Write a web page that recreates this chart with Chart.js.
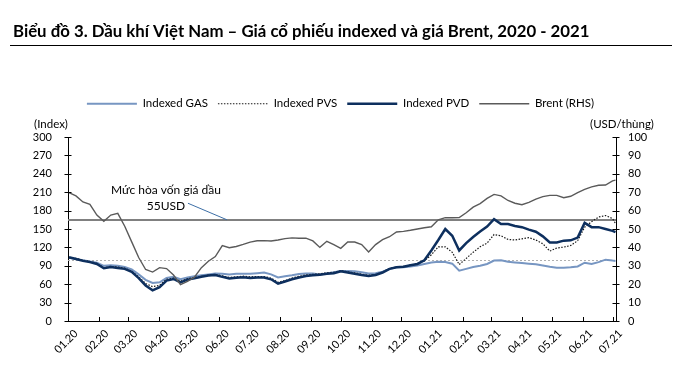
<!DOCTYPE html>
<html><head><meta charset="utf-8">
<script src="https://cdn.jsdelivr.net/npm/chart.js@4.4.1/dist/chart.umd.min.js"></script>
<style>html,body{margin:0;padding:0;background:#fff;}#wrap{width:681px;height:376px;}</style>
</head><body><div id="wrap"><canvas id="c" width="681" height="376"></canvas></div>
<script>
const titleText = 'Biểu đồ 3. Dầu khí Việt Nam – Giá cổ phiếu indexed và giá Brent, 2020 - 2021';
const leftAxisTitle = '(Index)';
const rightAxisTitle = '(USD/thùng)';
const noteLines = ['Mức hòa vốn giá dầu', '55USD'];
const breakEvenUSD = 55;
const baseIndex = 100;

// x = days since 2020-01-01 (weekly observations)
const days = [1,8,15,22,29,36,43,50,57,64,71,78,85,92,99,106,113,120,127,134,141,148,155,162,169,176,183,190,197,204,211,218,225,232,239,246,253,260,267,274,281,288,295,302,309,316,323,330,337,344,351,358,365,372,379,386,393,400,407,414,421,428,435,442,449,456,463,470,477,484,491,498,505,512,519,526,533,540,547,550];

const gas = [103,101,99,97,95,90,91,90,88,84,
  76,67,62,63,70,72,68,71,73,74.5,
  76,77.5,77,76,77,77,77,78,79,76,
  71,73,74.5,76.5,77.5,77.5,76,77.5,79.5,81.5,
  81.5,81,79.5,77.5,78,80.5,85,87.5,87.5,89,
  90.5,93,95.5,96.5,96,93.5,82,85,88,90,
  93,98.5,99,96.5,95.5,94.5,93.5,92.5,90.5,88.5,
  87,87,87.5,89,95,93,96,100,98.5,98];

const pvs = [103,102,99,97,94,87,89,88,86,81,
  72,61,56,58,68,70,65,69,71,73,
  75,76,73.5,71,72,73,72,72.5,72.5,70,
  63,66,70,73,75,76,77,78.5,79.5,82,
  80,78.5,76.5,74.5,76,80,85.5,88,89,91,
  93,98,108,121,121,112,92,102,112,121,
  127,141,139,133,132,134,136,132,126,114,
  119,120.5,123,131,153,162,169.5,172,167,159];

const pvd = [104,101,98,96,93,86,88,86.5,85,80,
  70,58,50,55,66,68.5,63,67.5,69.5,72,
  74,75,72,69.5,70.5,71.5,70,71,71,68,
  61,64.5,68,71,73.5,74.5,75.5,77,78,81,
  79,77,75,73.5,75,79,85,87.5,88.5,91,
  93,99,115,132,150,139,115,127,137,146,
  154,166,158,158,155,153,149,145.5,138,128,
  128,131,131.5,136,160,153,153,150,147,145];

const brent = [69.8,68.0,64.7,63.4,57.6,54.2,57.6,58.5,51.5,43.0,
  34.5,28.0,26.6,29.0,28.5,25.0,19.8,21.5,23.8,29.0,
  32.5,35.0,41.0,39.8,40.5,41.6,42.9,43.6,43.7,43.5,
  44.0,44.8,45.2,45.0,45.0,43.5,40.0,43.3,41.5,39.5,
  42.9,42.9,41.5,37.5,41.5,44.2,45.8,48.4,48.7,49.3,
  50.0,50.7,51.2,55.0,56.2,56.1,56.2,58.8,61.9,63.8,
  66.6,68.8,68.0,65.5,64.0,63.2,64.5,66.2,67.6,68.3,
  68.3,67.0,67.8,69.8,71.5,72.9,73.8,73.9,76.2,76.6];

const monthStarts = [0,31,60,91,121,152,182,213,244,274,305,335,366,397,425,456,486,517,547];
const monthLabels = ['01.20','02.20','03.20','04.20','05.20','06.20','07.20','08.20','09.20','10.20','11.20','12.20','01.21','02.21','03.21','04.21','05.21','06.21','07.21'];
const leftTicks = [0,30,60,90,120,150,180,210,240,270,300];
const rightTicks = [0,10,20,30,40,50,60,70,80,90,100];

const FONT = 'Lato';
const pts = arr => days.map((d, i) => ({x: d, y: arr[i]}));

// annotation placement (days, USD)
const note = {x: 98.4, y1: 68.8, y2: 60.2, lx1: 120.5, ly1: 64.0, lx2: 159.7, ly2: 55};

const decor = {
  id: 'decor',
  beforeDatasetsDraw(chart) {
    const {ctx, chartArea: a, scales: {y, y2}} = chart;
    ctx.save();
    ctx.strokeStyle = '#b0b0b0'; ctx.lineWidth = 1; ctx.setLineDash([2, 2]);
    const py = Math.round(y.getPixelForValue(baseIndex)) + 0.5;
    ctx.beginPath(); ctx.moveTo(a.left, py); ctx.lineTo(a.right, py); ctx.stroke();
    ctx.setLineDash([]);
    ctx.strokeStyle = '#808080'; ctx.lineWidth = 2;
    const pb = Math.round(y2.getPixelForValue(breakEvenUSD));
    ctx.beginPath(); ctx.moveTo(a.left, pb); ctx.lineTo(a.right, pb); ctx.stroke();
    ctx.restore();
  },
  afterDraw(chart) {
    const {ctx, chartArea: a, scales: {x, y, y2}} = chart;
    ctx.save();
    // title
    ctx.fillStyle = '#000';
    ctx.font = 'bold 16px ' + FONT;
    const w = ctx.measureText(titleText).width;
    const fs = 16 * 577 / w;
    ctx.font = 'bold ' + fs.toFixed(2) + 'px ' + FONT;
    ctx.textBaseline = 'alphabetic'; ctx.textAlign = 'left';
    ctx.fillText(titleText, 13, 37);
    ctx.strokeStyle = '#000'; ctx.lineWidth = 1;
    ctx.beginPath(); ctx.moveTo(10, 45.5); ctx.lineTo(672, 45.5); ctx.stroke();
    // axis titles
    ctx.font = '11.5px ' + FONT; ctx.textAlign = 'center';
    ctx.fillText(leftAxisTitle, a.left - 17, 128);
    ctx.fillText(rightAxisTitle, a.right + 6, 128);
    // tick marks
    ctx.strokeStyle = '#000'; ctx.lineWidth = 1;
    ctx.beginPath();
    monthStarts.forEach(v => { const px = Math.round(x.getPixelForValue(v)) + 0.5; ctx.moveTo(px, a.bottom); ctx.lineTo(px, a.bottom - 4); });
    leftTicks.forEach(v => { const p = Math.round(y.getPixelForValue(v)) + 0.5; ctx.moveTo(a.left - 3.5, p); ctx.lineTo(a.left + 3.5, p); });
    rightTicks.forEach(v => { const p = Math.round(y2.getPixelForValue(v)) + 0.5; ctx.moveTo(a.right - 3.5, p); ctx.lineTo(a.right + 3.5, p); });
    ctx.stroke();
    // annotation
    ctx.font = '12px ' + FONT; ctx.textAlign = 'center'; ctx.fillStyle = '#000';
    ctx.fillText(noteLines[0], x.getPixelForValue(note.x), y2.getPixelForValue(note.y1));
    ctx.fillText(noteLines[1], x.getPixelForValue(note.x), y2.getPixelForValue(note.y2));
    ctx.strokeStyle = '#3d6fa6'; ctx.lineWidth = 1;
    ctx.beginPath();
    ctx.moveTo(x.getPixelForValue(note.lx1), y2.getPixelForValue(note.ly1));
    ctx.lineTo(x.getPixelForValue(note.lx2), y2.getPixelForValue(note.ly2));
    ctx.stroke();
    ctx.restore();
  }
};

new Chart(document.getElementById('c'), {
  type: 'line',
  data: {
    datasets: [
      {label: 'Indexed GAS', data: pts(gas), borderColor: '#7796c2', borderWidth: 2, yAxisID: 'y', order: 4},
      {label: 'Indexed PVS', data: pts(pvs), borderColor: '#1a1a1a', borderWidth: 1.2, borderDash: [1.5, 1.5], yAxisID: 'y', order: 3},
      {label: 'Indexed PVD', data: pts(pvd), borderColor: '#0d2f5e', borderWidth: 2.5, yAxisID: 'y', order: 2},
      {label: 'Brent (RHS)', data: pts(brent), borderColor: '#5a5a5a', borderWidth: 1.4, yAxisID: 'y2', order: 1}
    ]
  },
  options: {
    responsive: false, animation: false,
    elements: {point: {radius: 0, hoverRadius: 0}, line: {tension: 0, fill: false}},
    layout: {padding: {top: 88, left: 0, right: 0, bottom: 0}},
    plugins: {
      title: {display: false},
      tooltip: {enabled: false},
      legend: {
        position: 'top', align: 'center',
        labels: {
          usePointStyle: true, pointStyle: 'line', pointStyleWidth: 50, boxWidth: 50, padding: 10,
          color: '#000', font: {family: FONT, size: 11.5},
          generateLabels: (chart) => chart.data.datasets.map((ds, i) => ({
            text: ds.label, fillStyle: ds.borderColor, strokeStyle: ds.borderColor,
            lineWidth: ds.borderWidth, lineDash: ds.borderDash || [], pointStyle: 'line',
            hidden: false, datasetIndex: i, fontColor: '#000'
          }))
        }
      }
    },
    scales: {
      x: {
        type: 'linear', min: 0, max: 550.5,
        afterBuildTicks: s => { s.ticks = monthStarts.map(v => ({value: v})); },
        afterFit: s => { s.height = 55; },
        ticks: {autoSkip: false, minRotation: 45, maxRotation: 45, padding: 6, labelOffset: 8, color: '#000',
          font: {family: FONT, size: 11}, callback: (v, i) => monthLabels[i]},
        grid: {display: false, drawTicks: false},
        border: {display: true, color: '#000', width: 1}
      },
      y: {
        position: 'left', min: 0, max: 300,
        afterBuildTicks: s => { s.ticks = leftTicks.map(v => ({value: v})); },
        afterFit: s => { s.width = 68; },
        ticks: {padding: 16, color: '#000', font: {family: FONT, size: 11}},
        grid: {display: false, drawTicks: false},
        border: {display: true, color: '#000', width: 1}
      },
      y2: {
        position: 'right', min: 0, max: 100,
        afterBuildTicks: s => { s.ticks = rightTicks.map(v => ({value: v})); },
        afterFit: s => { s.width = 65; },
        ticks: {padding: 12, color: '#000', font: {family: FONT, size: 11}},
        grid: {display: false, drawTicks: false},
        border: {display: true, color: '#000', width: 1}
      }
    }
  },
  plugins: [decor, {
    id: 'legendHeight',
    beforeInit(chart) {
      const lg = chart.legend;
      if (lg) { const f = lg.fit; lg.fit = function () { f.call(this); this.height = 49; }; }
    }
  }]
});
</script></body></html>
